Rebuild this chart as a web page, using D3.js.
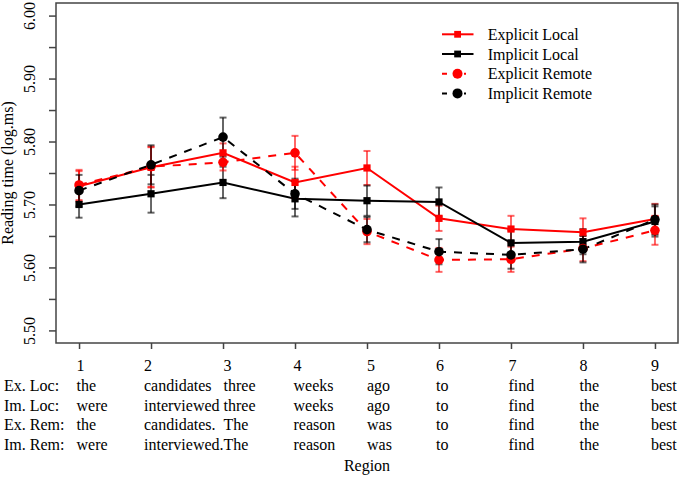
<!DOCTYPE html>
<html>
<head>
<meta charset="utf-8">
<script src="https://cdn.jsdelivr.net/npm/d3@7"></script>
<style>
  body { margin: 0; background: #fff; }
  #vis-reading { width: 680px; height: 477px; }
  #vis-reading text { font-family: "Liberation Serif", "Times New Roman", serif; font-size: 16px; fill: #000; }
</style>
</head>
<body>
<div id="vis-reading"></div>
<script>
const regions = [1, 2, 3, 4, 5, 6, 7, 8, 9];

const explicitLocal = [5.729, 5.759, 5.782, 5.735, 5.758, 5.678, 5.661, 5.656, 5.677];
const implicitLocal = [5.700, 5.717, 5.735, 5.709, 5.706, 5.704, 5.639, 5.641, 5.673];
const explicitRemote = [5.731, 5.760, 5.767, 5.782, 5.657, 5.612, 5.613, 5.630, 5.659];
const implicitRemote = [5.722, 5.763, 5.807, 5.717, 5.660, 5.625, 5.620, 5.629, 5.676];

// half-width of the error bars
const explicitLocalErr = [0.024, 0.032, 0.015, 0.025, 0.027, 0.020, 0.021, 0.022, 0.024];
const implicitLocalErr = [0.021, 0.030, 0.025, 0.028, 0.024, 0.023, 0.020, 0.020, 0.024];
const explicitRemoteErr = [0.024, 0.032, 0.013, 0.027, 0.020, 0.019, 0.020, 0.020, 0.023];
const implicitRemoteErr = [0.025, 0.031, 0.031, 0.024, 0.020, 0.020, 0.022, 0.021, 0.024];

const seriesNames = ["Explicit Local", "Implicit Local", "Explicit Remote", "Implicit Remote"];

const yTicks = [5.5, 5.55, 5.6, 5.65, 5.7, 5.75, 5.8, 5.85, 5.9, 5.95, 6.0];
const yLabels = ["5.50", "", "5.60", "", "5.70", "", "5.80", "", "5.90", "", "6.00"];

const rowNames = ["Ex. Loc:", "Im. Loc:", "Ex. Rem:", "Im. Rem:"];
const rowWords = [
  ["the", "candidates", "three", "weeks", "ago", "to", "find", "the", "best"],
  ["were", "interviewed", "three", "weeks", "ago", "to", "find", "the", "best"],
  ["the", "candidates.", "The", "reason", "was", "to", "find", "the", "best"],
  ["were", "interviewed.", "The", "reason", "was", "to", "find", "the", "best"],
];

class VisReading {
  constructor() {
    this.init();
  }

  init() {
    this.width = 680;
    this.height = 477;
    this.margin = { top: 3, right: 2, bottom: 134, left: 56 };
    // small nudges so the word columns sit like the original table
    this.colShift = [-2.5, -7, 0.5, -1.5, 0, -3, -2.5, -3.5, -4];

    this.series = [
      { name: seriesNames[0], values: explicitLocal, err: explicitLocalErr, color: "#ff0000", bar: "rgba(255,0,0,0.6)", shape: "square", dash: null },
      { name: seriesNames[1], values: implicitLocal, err: implicitLocalErr, color: "#000000", bar: "rgba(0,0,0,0.6)", shape: "square", dash: null },
      { name: seriesNames[2], values: explicitRemote, err: explicitRemoteErr, color: "#ff0000", bar: "rgba(255,0,0,0.6)", shape: "circle", dash: "8,8" },
      { name: seriesNames[3], values: implicitRemote, err: implicitRemoteErr, color: "#000000", bar: "rgba(0,0,0,0.6)", shape: "circle", dash: "8,8" },
    ];

    this.x = d3
      .scaleLinear()
      .domain([0.68, 9.32])
      .range([this.margin.left, this.width - this.margin.right]);
    this.y = d3
      .scaleLinear()
      .domain([5.48, 6.02])
      .range([this.height - this.margin.bottom, this.margin.top]);

    this.svg = d3
      .select("#vis-reading")
      .append("svg")
      .attr("width", this.width)
      .attr("height", this.height);

    this.render();
  }

  render() {
    this.renderAxes();
    this.renderSeries();
    this.renderLegend();
    this.renderTable();
  }

  renderAxes() {
    const axisColor = "#444";

    this.svg
      .append("rect")
      .attr("x", this.margin.left)
      .attr("y", this.margin.top)
      .attr("width", this.width - this.margin.left - this.margin.right)
      .attr("height", this.height - this.margin.top - this.margin.bottom)
      .attr("fill", "none")
      .attr("stroke", axisColor)
      .attr("stroke-width", 1.5);

    const yAxis = this.svg
      .append("g")
      .attr("transform", `translate(${this.margin.left},0)`)
      .call(
        d3
          .axisLeft(this.y)
          .tickValues(yTicks)
          .tickSize(7)
          .tickFormat((d, i) => yLabels[i])
      );
    yAxis.select(".domain").remove();
    yAxis.selectAll("line").attr("stroke", axisColor).attr("stroke-width", 1.5);
    // labels stand on their side, like R's default y axis
    yAxis
      .selectAll("text")
      .attr("x", null)
      .attr("y", 0)
      .attr("dy", null)
      .attr("text-anchor", "middle")
      .attr("transform", "translate(-21,0) rotate(-90)");

    const xAxis = this.svg
      .append("g")
      .attr("transform", `translate(0,${this.height - this.margin.bottom})`)
      .call(d3.axisBottom(this.x).tickValues(regions).tickSize(6).tickFormat(""));
    xAxis.select(".domain").remove();
    xAxis.selectAll("line").attr("stroke", axisColor).attr("stroke-width", 1.5);

    this.svg
      .append("text")
      .attr("transform", `translate(13,${(this.margin.top + this.height - this.margin.bottom) / 2}) rotate(-90)`)
      .attr("text-anchor", "middle")
      .text("Reading time (log.ms)");

    this.svg
      .append("text")
      .attr("x", (this.margin.left + this.width - this.margin.right) / 2)
      .attr("y", 471)
      .attr("text-anchor", "middle")
      .text("Region");
  }

  renderSeries() {
    const line = d3
      .line()
      .x((d, i) => this.x(regions[i]))
      .y((d) => this.y(d));

    const g = this.svg.append("g").attr("class", "series");

    this.series.forEach((s) => {
      g.append("path")
        .datum(s.values)
        .attr("fill", "none")
        .attr("stroke", s.color)
        .attr("stroke-width", 2)
        .attr("stroke-dasharray", s.dash)
        .attr("d", line);
    });

    this.series.forEach((s) => {
      const bars = g
        .append("g")
        .attr("stroke", s.bar)
        .attr("stroke-width", 2)
        .selectAll("g")
        .data(s.values)
        .join("g");
      bars
        .append("line")
        .attr("x1", (d, i) => this.x(regions[i]))
        .attr("x2", (d, i) => this.x(regions[i]))
        .attr("y1", (d, i) => this.y(d - s.err[i]))
        .attr("y2", (d, i) => this.y(d + s.err[i]));
      [-1, 1].forEach((sign) => {
        bars
          .append("line")
          .attr("x1", (d, i) => this.x(regions[i]) - 3.5)
          .attr("x2", (d, i) => this.x(regions[i]) + 3.5)
          .attr("y1", (d, i) => this.y(d + sign * s.err[i]))
          .attr("y2", (d, i) => this.y(d + sign * s.err[i]));
      });
    });

    this.series.forEach((s) => {
      const pts = g.append("g").attr("fill", s.color);
      pts
        .selectAll(".pt")
        .data(s.values)
        .join((enter) =>
          s.shape === "square"
            ? enter
                .append("rect")
                .attr("x", (d, i) => this.x(regions[i]) - 3.6)
                .attr("y", (d) => this.y(d) - 3.6)
                .attr("width", 7.2)
                .attr("height", 7.2)
            : enter
                .append("circle")
                .attr("cx", (d, i) => this.x(regions[i]))
                .attr("cy", (d) => this.y(d))
                .attr("r", 4.8)
        );
    });
  }

  renderLegend() {
    const lx = 442;
    const lw = 31.5;
    const legend = this.svg
      .append("g")
      .attr("class", "legend")
      .selectAll("g")
      .data(this.series)
      .join("g")
      .attr("transform", (d, i) => `translate(${lx},${34.3 + i * 19.7})`);

    legend
      .append("line")
      .attr("x1", 0)
      .attr("x2", (d) => (d.dash ? 24 : lw))
      .attr("stroke", (d) => d.color)
      .attr("stroke-width", 2)
      .attr("stroke-dasharray", (d) => (d.dash ? "5,6" : null));

    legend.each(function (d) {
      const g = d3.select(this);
      if (d.shape === "square") {
        g.append("rect").attr("x", 12.2).attr("y", -3.4).attr("width", 6.8).attr("height", 6.8).attr("fill", d.color);
      } else {
        g.append("circle").attr("cx", 15.5).attr("cy", 0).attr("r", 5).attr("fill", d.color);
      }
    });

    legend
      .append("text")
      .attr("x", 45.7)
      .attr("y", 5.7)
      .text((d) => d.name);
  }

  renderTable() {
    const t = this.svg.append("g").attr("class", "table");

    t.selectAll(".num")
      .data(regions)
      .join("text")
      .attr("class", "num")
      .attr("x", (d, i) => this.x(d) + this.colShift[i])
      .attr("y", 371)
      .text((d) => d);

    rowNames.forEach((name, r) => {
      const yy = 391 + r * 19.5;
      t.append("text").attr("x", 4).attr("y", yy).text(name);
      t.append("g")
        .selectAll("text")
        .data(rowWords[r])
        .join("text")
        .attr("x", (d, i) => this.x(regions[i]) + this.colShift[i])
        .attr("y", yy)
        .text((d) => d);
    });
  }
}

new VisReading();
</script>
</body>
</html>
